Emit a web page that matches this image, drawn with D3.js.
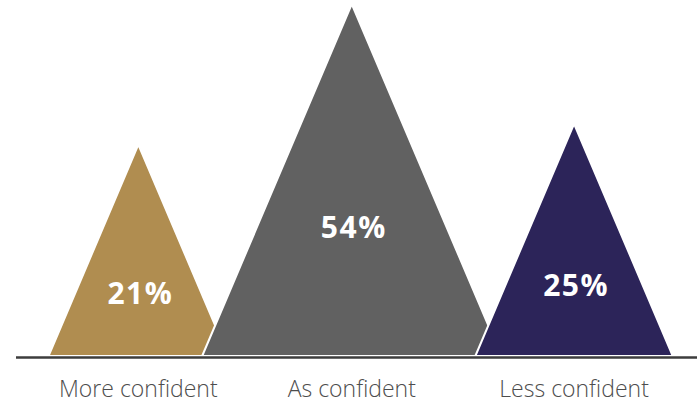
<!DOCTYPE html>
<html>
<head>
<meta charset="utf-8">
<script src="https://cdn.jsdelivr.net/npm/d3@7/dist/d3.min.js"></script>
<style>
  html, body { margin: 0; padding: 0; background: #ffffff; }
  svg { display: block; }
</style>
</head>
<body>
<svg id="chart" width="697" height="403"></svg>
<script>
// Survey shares, one triangle per answer
const categories = ["More confident", "As confident", "Less confident"];
const values = [21, 54, 25];
const valueLabels = ["21%", "54%", "25%"];
const colors = ["#b08d50", "#616161", "#2c2459"];

const width = 697, height = 403;
const baseY = 356;          // baseline the triangles stand on
const startX = 48.5;        // left foot of the first triangle
const overlap = 26;         // neighbouring triangles overlap at the feet
const slope = 0.425;        // half-width / height of every triangle

const svg = d3.select("#chart");

// Height scale: triangles grow sub-linearly so their areas track the shares
const hScale = d3.scalePow().exponent(0.54)
  .domain([0, d3.max(values)])
  .range([0, baseY - 4]);

// Vertical position of the percentage label above the baseline
const labelScale = d3.scaleLinear()
  .domain([0, d3.max(values)])
  .range([baseY - 21, baseY - 129]);

// Lay the triangles out left to right, each overlapping the previous one
let cursor = startX;
const tris = values.map((v, i) => {
  const h = hScale(v);
  const hw = h * slope;
  const left = cursor;
  cursor = left + 2 * hw - overlap;
  return { v, i, h, hw, left, cx: left + hw, right: left + 2 * hw };
});

svg.selectAll("path.tri")
  .data(tris)
  .join("path")
  .attr("class", "tri")
  .attr("d", d => {
    const p = d3.path();
    p.moveTo(d.left, baseY);
    p.lineTo(d.cx, baseY - d.h);
    p.lineTo(d.right, baseY);
    p.closePath();
    return p.toString();
  })
  .attr("fill", d => colors[d.i])
  .attr("stroke", "#ffffff")
  .attr("stroke-width", 2)
  .attr("stroke-linejoin", "miter");

// Baseline
svg.append("line")
  .attr("x1", 16).attr("x2", width)
  .attr("y1", baseY + 1.5).attr("y2", baseY + 1.5)
  .attr("stroke", "#3d3d3d")
  .attr("stroke-width", 2.5);

// Percentages inside the triangles
svg.selectAll("text.val")
  .data(tris)
  .join("text")
  .attr("class", "val")
  .attr("x", d => d.cx + 2)
  .attr("y", d => labelScale(d.v))
  .attr("dy", "0.36em")
  .attr("text-anchor", "middle")
  .attr("fill", "#ffffff")
  .style("font-family", "'Open Sans', sans-serif")
  .style("font-weight", 700)
  .style("font-size", "30px")
  .style("letter-spacing", "1.5px")
  .text(d => valueLabels[d.i]);

// Category names under the baseline
svg.selectAll("text.cat")
  .data(tris)
  .join("text")
  .attr("class", "cat")
  .attr("x", d => d.cx)
  .attr("y", 397)
  .attr("text-anchor", "middle")
  .attr("fill", "#4d4d4d")
  .style("font-family", "'Open Sans', sans-serif")
  .style("font-weight", 300)
  .style("font-size", "23px")
  .text(d => categories[d.i]);
</script>
</body>
</html>
